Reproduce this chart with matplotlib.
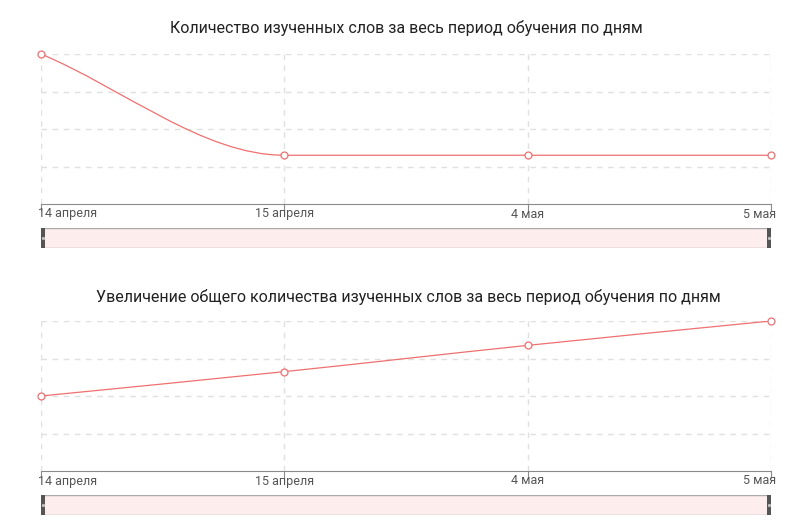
import numpy as np
import matplotlib
matplotlib.use('Agg')
import matplotlib.pyplot as plt
from matplotlib.path import Path
from matplotlib.patches import PathPatch, Rectangle

plt.rcParams['font.family'] = ['Roboto', 'DejaVu Sans']

days = ['14 апреля', '15 апреля', '4 мая', '5 мая']
words_per_day = [40, 13, 13, 13]
words_total = [40, 53, 67, 80]

title1 = 'Количество изученных слов за весь период обучения по дням'
title2 = 'Увеличение общего количества изученных слов за весь период обучения по дням'

line_color = '#ee7070'
grid_color = '#e0e0e0'


def smooth_path(xs, ys):
    # monotone cubic, similar to echarts smooth line
    xs = np.asarray(xs, float)
    ys = np.asarray(ys, float)
    d = np.diff(ys) / np.diff(xs)
    m = np.zeros(len(xs))
    m[0] = d[0]
    m[-1] = d[-1]
    for i in range(1, len(xs) - 1):
        if d[i - 1] * d[i] <= 0:
            m[i] = 0
        else:
            m[i] = (d[i - 1] + d[i]) / 2
    verts = [(xs[0], ys[0])]
    codes = [Path.MOVETO]
    for i in range(len(xs) - 1):
        h = (xs[i + 1] - xs[i]) / 3
        verts += [(xs[i] + h, ys[i] + m[i] * h),
                  (xs[i + 1] - h, ys[i + 1] - m[i + 1] * h),
                  (xs[i + 1], ys[i + 1])]
        codes += [Path.CURVE4] * 3
    return Path(verts, codes)


def draw_panel(ax, values, ymax):
    x = np.arange(len(days))
    ax.set_xlim(0, len(days) - 1)
    ax.set_ylim(0, ymax)
    for yy in np.linspace(0, ymax, 5)[1:]:
        ax.axhline(yy, color=grid_color, lw=1, ls=(0, (4, 4)), zorder=0)
    for xx in x:
        ax.axvline(xx, color=grid_color, lw=1, ls=(0, (4, 4)), zorder=0)
    ax.add_patch(PathPatch(smooth_path(x, values), fill=False,
                           edgecolor=line_color, lw=0.9, zorder=3))
    ax.plot(x, values, 'o', ms=5, mfc='white', mec=line_color, mew=0.9,
            zorder=4, clip_on=False)
    for s in ['top', 'right', 'left']:
        ax.spines[s].set_visible(False)
    ax.spines['bottom'].set_color('#8a8a8a')
    ax.set_yticks([])
    ax.set_xticks(x)
    ax.set_xticklabels([])
    ax.tick_params(axis='x', length=5, color='#8a8a8a', pad=3)
    aligns = ['left', 'center', 'center', 'right']
    for xx, lab, ha in zip(x, days, aligns):
        ax.annotate(lab, (xx, 0), xytext=(-3 if ha == 'left' else (5 if ha == 'right' else 0), -10),
                    textcoords='offset pixels', ha=ha, va='center',
                    fontsize=9, color='#555555', annotation_clip=False)


def draw_slider(fig, rect):
    sl = fig.add_axes(rect)
    sl.set_xlim(0, 1)
    sl.set_ylim(0, 1)
    sl.axis('off')
    sl.add_patch(Rectangle((0, 0), 1, 1, facecolor='#fdeded', edgecolor='#aaaaaa', lw=1))
    hw = 4 / (rect[2] * 800)
    sl.add_patch(Rectangle((0, 0), hw, 1, facecolor='#555555', edgecolor='none'))
    sl.add_patch(Rectangle((1 - hw, 0), hw, 1, facecolor='#555555', edgecolor='none'))
    sl.plot([hw / 2, 1 - hw / 2], [0.5, 0.5], 's', ms=1.2, color='#bbbbbb')


fig = plt.figure(figsize=(8, 5.28), dpi=100)

ax1 = fig.add_axes([41 / 800, 1 - 204 / 528, 730 / 800, 150 / 528])
draw_panel(ax1, words_per_day, 40)
fig.text(406 / 800, 1 - 28 / 528, title1, ha='center', va='center', fontsize=11.5, color='#222222')
draw_slider(fig, [41 / 800, 1 - 248 / 528, 730 / 800, 20 / 528])

ax2 = fig.add_axes([41 / 800, 1 - 471 / 528, 730 / 800, 150 / 528])
draw_panel(ax2, words_total, 80)
fig.text(408 / 800, 1 - 297 / 528, title2, ha='center', va='center', fontsize=11.5, color='#222222')
draw_slider(fig, [41 / 800, 1 - 515 / 528, 730 / 800, 20 / 528])

fig.savefig('out.png', dpi=100, facecolor='white')
